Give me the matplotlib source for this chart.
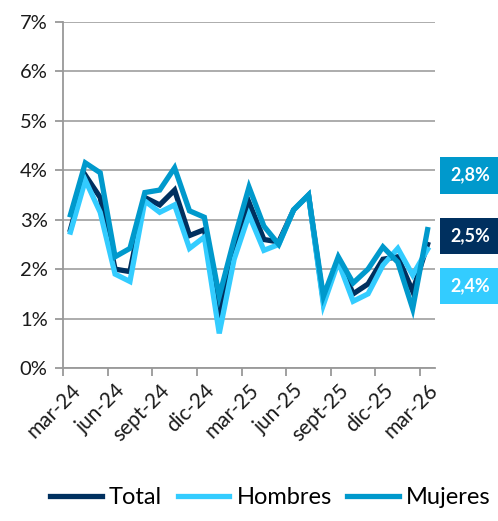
import matplotlib
matplotlib.use("Agg")
import matplotlib.pyplot as plt
from matplotlib.ticker import FixedLocator, PercentFormatter

months = ["mar-24", "abr-24", "may-24", "jun-24", "jul-24", "ago-24", "sept-24", "oct-24",
          "nov-24", "dic-24", "ene-25", "feb-25", "mar-25", "abr-25", "may-25", "jun-25",
          "jul-25", "ago-25", "sept-25", "oct-25", "nov-25", "dic-25", "ene-26", "feb-26", "mar-26"]
total = [2.8, 3.9, 3.45, 2.0, 1.95, 3.45, 3.3, 3.6, 2.68, 2.8, 1.15, 2.3, 3.35, 2.6, 2.55,
         3.2, 3.5, 1.35, 2.2, 1.5, 1.7, 2.2, 2.25, 1.55, 2.5]
hombres = [2.75, 3.8, 3.15, 1.9, 1.75, 3.38, 3.15, 3.3, 2.42, 2.65, 0.7, 2.2, 3.1, 2.38, 2.5,
           3.2, 3.5, 1.28, 2.15, 1.35, 1.5, 2.08, 2.42, 1.88, 2.4]
mujeres = [3.1, 4.15, 3.95, 2.25, 2.42, 3.55, 3.6, 4.05, 3.18, 3.05, 1.45, 2.6, 3.66, 2.87, 2.5,
           3.2, 3.5, 1.45, 2.25, 1.72, 2.0, 2.45, 2.14, 1.2, 2.8]
last_labels = ["2,8%", "2,5%", "2,4%"]

c_total = "#00305F"
c_hom = "#33CCFF"
c_muj = "#0099CC"

plt.rcParams["font.family"] = ["Lato", "DejaVu Sans"]

fig = plt.figure(figsize=(4.98, 5.21), dpi=100)
ax = fig.add_axes([0.1265, 0.2937, 0.747, 0.664])

x = list(range(len(months)))
ax.plot(x, total, color=c_total, lw=3.8, label="Total", solid_joinstyle="miter", zorder=3)
ax.plot(x, hombres, color=c_hom, lw=3.8, label="Hombres", solid_joinstyle="miter", zorder=3)
ax.plot(x, mujeres, color=c_muj, lw=3.8, label="Mujeres", solid_joinstyle="miter", zorder=3)

ax.set_xlim(-0.5, len(months) - 0.5)
ax.set_ylim(0, 7)
ax.yaxis.set_major_locator(FixedLocator(range(0, 8)))
ax.yaxis.set_major_formatter(PercentFormatter(decimals=0))
ax.grid(axis="y", color="#A6A6A6", lw=1.3)
ax.set_axisbelow(True)

ax.set_xticks(x[::3])
ax.set_xticklabels(months[::3], rotation=45, ha="right", rotation_mode="anchor")
ax.set_xticks([i - 0.5 for i in range(0, len(months) + 1, 3)], minor=True)
ax.tick_params(axis="x", which="major", length=0, pad=9, labelsize=15, colors="#1a1a1a")
ax.tick_params(axis="x", which="minor", length=6, width=1.3, color="#999999")
ax.tick_params(axis="y", length=6, width=1.3, color="#999999", labelsize=14.5,
               labelcolor="#1a1a1a", pad=5)

for s in ["top", "right"]:
    ax.spines[s].set_visible(False)
for s in ["left", "bottom"]:
    ax.spines[s].set_color("#999999")
    ax.spines[s].set_linewidth(1.3)

# value boxes on the right
box_y = [3.9, 2.67, 1.66]
for y, lab, col in zip(box_y, last_labels, [c_muj, c_total, c_hom]):
    ax.text(1.04, y / 7, lab, transform=ax.transAxes, ha="left", va="center",
            color="white", fontsize=13, fontweight="bold",
            bbox=dict(boxstyle="square,pad=0.55", fc=col, ec="none"))

fig.legend(loc="lower center", bbox_to_anchor=(0.543, 0.0), ncol=3, frameon=False,
           fontsize=17, handlelength=2.2, handletextpad=0.3, columnspacing=0.65,
           borderaxespad=0.15)

fig.savefig("out.png", dpi=100)
